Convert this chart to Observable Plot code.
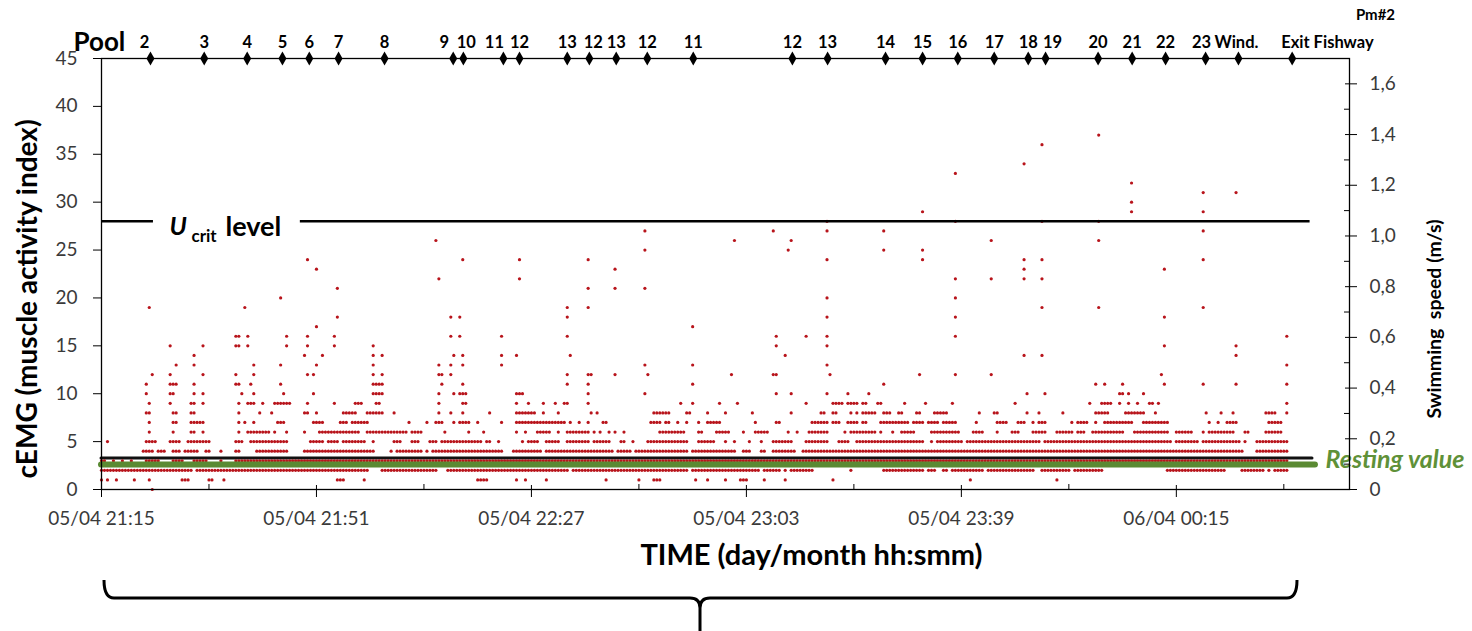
<!DOCTYPE html>
<html><head><meta charset="utf-8">
<script src="https://cdn.jsdelivr.net/npm/d3@7"></script>
<script src="https://cdn.jsdelivr.net/npm/@observablehq/plot@0.6"></script>
<style>
html,body{margin:0;padding:0;background:#fff;overflow:hidden}
#wrap{position:relative;width:1472px;height:631px}
#brace{position:absolute;left:0;top:0;pointer-events:none}
</style>
</head><body><div id="wrap"></div>
<script>
// ---------- DATA ----------
// time origin of the record: 05/04 21:15 ; positions are minutes after it
const recordStart = Date.UTC(2015, 3, 5, 21, 15);
const axisEndMinute = 209;
const majorTickMinutes = [0, 36, 72, 108, 144, 180];
const minorTickMinutes = [18, 54, 90, 126, 162, 198];
const cemgTicks = [0, 5, 10, 15, 20, 25, 30, 35, 40, 45];
const speedMajorTicks = [0, 0.2, 0.4, 0.6, 0.8, 1.0, 1.2, 1.4, 1.6];
const speedMinorTicks = [0.1, 0.3, 0.5, 0.7, 0.9, 1.1, 1.3, 1.5];
const speedMax = 1.7;   // right axis top (= cEMG 45)
const cemgMax = 45;

// pools passed (top axis)
const poolNames = ["2","3","4","5","6","7","8","9","10","11","12","13","12","13","12","11","12","13","14","15","16","17","18","19","20","21","22","23","Wind.","Exit Fishway"];
const poolMinutes = [8.2,17.2,24.4,30.3,34.8,39.7,47.4,58.9,60.6,67.3,70.0,78.0,81.7,86.2,91.4,99.1,115.7,121.6,131.3,137.5,143.4,149.5,155.2,158.1,166.9,172.6,178.2,184.9,190.4,199.4];

// reference levels
const ucritLevel = 28;
const ucritSpans = [[0, 8.7], [33.3, 202.4]];
const restingLevel = 2.6;
const restingSpan = [0, 203.3];
const baselineLevel = 3.3;
const baselineSpan = [0, 202.8];

// cEMG readings (quantized levels 0..12): observed runs of consecutive
// 0.5-min cells [fromMinute, toMinute] (single cell = [minute])
const cellMinutes = 0.5;
const levelRuns = [
 /*0*/ [[8.5]],
 /*1*/ [[0],[1],[2.5],[5.5],[8],[13.5,14.5],[18,18.5],[20.5],[39.5,40.5],[44],[63,64.5],[69.5],[71],[74.5],[84.5],[90],[92.5,93.5],[99.5],[101.5],[104.5],[107,108],[111],[114.5],[122.5],[145.5],[160]],
 /*2*/ [[0,7.5],[8,12],[12.5,15],[16,17],[17.5,25.5],[26,34.5],[35,44.5],[47,56],[58,78],[79,98],[99,105.5],[106,110],[111,113],[113.5],[114.5],[115.5,119],[125.5],[131,132.5],[133,137.5],[138.5,139.5],[141,141.5],[142.5,147.5],[148.5,156],[157.5,162],[163,164.5],[165,167.5],[178.5,182.5],[183,188],[191,194.5],[195.5],[196.5,198.5]],
 /*3*/ [[0,0.5],[2],[3.5],[5],[7.5,9.5],[12,13.5],[15.5,17.5],[20],[22.5,198.5]],
 /*4*/ [[7,8.5],[9.5,10.5],[12,13],[14,16],[17.5,18],[20],[22.5,23],[26,31],[34,40.5],[41,45.5],[48.5],[49.5,53.5],[54.5],[55.5,67],[69,73.5],[74.5,85.5],[86.5,88.5],[89.5,98],[99,106],[107.5,108.5],[110.5,111],[112.5,116],[117.5],[118,191],[193.5,198.5]],
 /*5*/ [[1],[7.5,9],[11.5,13],[14.5,18],[22.5,23.5],[25,31],[35,37],[38,39.5],[40.5,44],[45.5],[49,50],[52,53],[55,56],[57,63.5],[64.5,65],[66.5],[70.5],[71.5,73],[74.5,76.5],[78,81.5],[82.5,85],[87,87.5],[89],[91.5,98],[100,102.5],[104.5],[106],[108.5],[110.5],[112.5,115.5],[118,121.5],[123.5,125],[126.5,132.5],[133,137.5],[139],[140,144],[145,157],[158,179],[180,183.5],[184.5,190.5],[191.5],[193.5,198.5]],
 /*6*/ [[8],[12],[15,15.5],[17],[23],[24.5,28],[29],[31],[34],[36.5,43],[44.5,51],[52,53.5],[57.5],[61.5],[64],[69.5],[71],[73,75],[76.5],[78,81.5],[82.5],[83.5],[85],[86],[87.5],[93.5,97.5],[100,100.5],[103,105],[107.5],[109.5,111.5],[115],[116.5],[118.5,121.5],[124.5],[125.5,129.5],[130.5],[132.5],[134,136],[139,143.5],[146,147.5],[150],[152.5,153.5],[156,158],[160,162.5],[163.5,164.5],[166,171],[173,178.5],[180,182.5],[184.5],[185.5,189.5],[191.5,192],[195,197.5]],
 /*7*/ [[8],[12,12.5],[15,17],[23],[24],[25.5],[29.5,30.5],[35.5,37],[40,41],[42,44.5],[51.5],[54.5],[56,57],[59],[60,61.5],[63],[67],[69.5,77.5],[78.5],[80],[81.5],[84,84.5],[92,93.5],[94.5,95],[96.5],[98],[100],[101.5,103.5],[109.5],[113,113.5],[119,121.5],[122.5,123.5],[125,126.5],[127.5,128],[130.5,135],[136,137.5],[138.5,140],[141,143],[146.5],[150,151.5],[153.5,154.5],[156],[157,158],[162.5],[163.5,165],[166.5],[168,172.5],[174.5,178.5],[185.5],[187],[188.5,190],[195.5,197.5]],
 /*8*/ [[7.5,8],[12,12.5],[15,15.5],[23],[26.5],[28.5],[34,34.5],[36],[40.5,42.5],[44.5,47],[49],[56.5],[58.5],[60.5],[65],[69.5,72.5],[74],[76.5],[82],[83],[92.5,95],[98,98.5],[101.5],[104.5],[109],[115.5],[120.5,121],[122.5,123],[125.5],[126.5],[127.5,129.5],[131,132],[133.5,134],[136.5,137],[139.5,141.5],[147],[149.5,150],[155],[157],[161],[166.5,168.5],[171.5,174.5],[176.5],[185],[187.5],[189.5],[195,196.5],[198.5]],
 /*9*/ [[8],[11.5],[15,15.5],[17],[23],[24.5,25.5],[27],[29,31.5],[34.5],[39],[42.5,43.5],[46,46.5],[56.5],[60.5,61],[69.5],[71.5],[74],[76],[77.5,78],[81.5],[97],[99],[103.5],[106.5],[118],[122.5,124],[125,126.5],[127.5,128],[130,130.5],[134.5],[138],[142.5],[153],[165.5],[167.5,169],[170.5],[172],[173.5],[175.5,176],[177],[198.5]],
 /*10*/ [[7.5],[11.5,12],[15.5],[17],[23.5],[25.5],[30.5],[35.5],[45.5,47],[56.5],[59],[60,61],[69.5,70.5],[81.5],[91],[113],[115.5],[121.5],[125],[128.5],[155],[158],[170.5,171],[172],[174.5]],
 /*11*/ [[7.5],[11.5,12.5],[15.5],[22.5,23],[25],[30],[45.5,47],[57],[60.5],[78],[81.5],[99],[131],[166.5],[168],[171],[178],[184.5],[190],[198.5]],
 /*12*/ [[8.5],[11.5],[17],[22.5],[25.5],[34.5],[35.5],[45.5],[47],[56.5,57],[58.5],[78],[81.5,82],[86],[91.5],[105.5],[112.5,113],[122],[137],[143],[149],[177.5]]
];

// isolated high readings: [minute, cEMG]
const peakReadings = [
 [12.5,13],[15.5,13],[25.5,13],[30,13],[36,13],[45.5,13],[56.5,13],[58.5,13],[60.5,13],[67,13],[91,13],[99,13],
 [15.5,14],[34,14],[37,14],[45.5,14],[47,14],[59,14],[60.5,14],[67,14],[69.5,14],[78.5,14],
 [11.5,15],[17,15],[22.5,15],[23,15],[24.5,15],[31,15],[34.5,15],[39,15],[45.5,15],
 [22.5,16],[23,16],[24.5,16],[31,16],[34.5,16],[39,16],[58.5,16],[60,16],[67,16],[78,16],
 [36,17],[99,17],[39.5,18],[58.5,18],[60,18],[78,18],
 [8,19],[24,19],[78,19],[81.5,19],[30,20],
 [39.5,21],[81.5,21],[86,21],[91,21],[56.5,22],[70,22],[36,23],[86,23],
 [34.5,24],[60.5,24],[70,24],[81.5,24],[91,25],[56,26],[91,27],
 [106,26],[112.5,27],[115,25],[115.5,26],[113,16],[113,15],[114.5,14],[118,16],
 [121.5,28],[121.5,27],[121.5,24],[121.5,20],[121.5,18],[121.5,16],[121.5,15],[121.5,13],
 [131,27],[131,25],[137.5,29],[137.5,25],[137.5,24],
 [143,33],[143,28],[143,22],[143,20],[143,18],[143,16],
 [149,26],[149,22],[154.5,34],[154.5,24],[154.5,23],[154.5,22],[154.5,14],
 [157.5,36],[157.5,28],[157.5,24],[157.5,22],[157.5,19],[157.5,14],
 [167,37],[167,28],[167,26],[167,19],[172.5,32],[172.5,30],[172.5,29],
 [178,23],[178,18],[178,15],[184.5,31],[184.5,29],[184.5,27],[184.5,24],[184.5,19],
 [190,31],[190,15],[190,14],[198.5,16],[198.5,13]
];

// ---------- BUILD ----------
const toDate = m => new Date(recordStart + m * 60000);
const readings = [];
levelRuns.forEach((runs, level) => {
  runs.forEach(run => {
    const a = run[0], b = run.length > 1 ? run[1] : run[0];
    for (let m = a; m <= b + 1e-9; m += cellMinutes) readings.push({t: toDate(m), v: level});
  });
});
peakReadings.forEach(([m, v]) => readings.push({t: toDate(m), v}));

const pools = poolNames.map((name, i) => ({name, t: toDate(poolMinutes[i]), i}));
const speedToCemg = s => s * cemgMax / speedMax;
const fmtTime = d3.utcFormat("%d/%m %H:%M");
const fmtSpeed = s => s === 0 ? "0" : d3.format(".1f")(s).replace(".", ",");

// label nudges for crowded pool labels (styling only)
const poolDx = {0: -6, 7: -9, 8: 3, 9: -9, 12: 4, 23: 7, 27: -4, 28: -2, 29: -11};
const poolLabelMarks = Array.from(d3.group(pools, p => poolDx[p.i] || 0), ([dx, items]) =>
  Plot.text(items, {x: "t", frameAnchor: "top", text: "name", dy: -16, dx: +dx,
    lineAnchor: "middle", textAnchor: items[0].name === "Exit Fishway" ? "start" : "middle",
    fontWeight: "bold", fontSize: 16.5, fill: "black"}));

const FONT = "Lato, 'Open Sans', 'Liberation Sans', sans-serif";
const DOT = "#b8141b";
const GREEN = "#5a8a33";

const chart = Plot.plot({
  width: 1472, height: 631,
  marginLeft: 101, marginRight: 123, marginTop: 58, marginBottom: 142,
  x: {type: "utc", domain: [toDate(0), toDate(axisEndMinute)]},
  y: {domain: [0, cemgMax]},
  style: {fontFamily: FONT, fontSize: "19px", color: "#3a3a3a", background: "white"},
  marks: [
    Plot.ruleY([baselineLevel], {x1: () => toDate(baselineSpan[0]), x2: () => toDate(baselineSpan[1]), stroke: "#111", strokeWidth: 3, strokeLinecap: "round"}),
    Plot.dot(readings, {x: "t", y: "v", r: 1.6, fill: DOT, stroke: null}),
    Plot.ruleY([restingLevel], {x1: () => toDate(restingSpan[0]), x2: () => toDate(restingSpan[1]), stroke: GREEN, strokeWidth: 6, strokeLinecap: "round"}),
    Plot.ruleY(ucritSpans, {y: () => ucritLevel, x1: d => toDate(d[0]), x2: d => toDate(d[1]), stroke: "black", strokeWidth: 2.5}),
    Plot.text([ucritLevel], {y: d => d, frameAnchor: "left", dx: 68, dy: 6, text: () => "U", textAnchor: "start", lineAnchor: "middle", fontStyle: "italic", fontWeight: "bold", fontSize: 25, fill: "black"}),
    Plot.text([ucritLevel], {y: d => d, frameAnchor: "left", dx: 90, dy: 15, text: () => "crit", textAnchor: "start", lineAnchor: "middle", fontWeight: "bold", fontSize: 17, fill: "black"}),
    Plot.text([ucritLevel], {y: d => d, frameAnchor: "left", dx: 124, dy: 6, text: () => "level", textAnchor: "start", lineAnchor: "middle", fontWeight: "bold", fontSize: 27, fill: "black"}),
    Plot.text([restingLevel], {y: d => d, frameAnchor: "right", dx: -24, dy: -5, text: () => "Resting value", textAnchor: "start", lineAnchor: "middle", fontStyle: "italic", fontWeight: "bold", fontSize: 25, fill: "#5f9138"}),
    Plot.frame({stroke: "black", strokeWidth: 1.3}),
    Plot.axisX({ticks: majorTickMinutes.map(toDate), tickFormat: fmtTime, tickSize: 8, tickPadding: 14, fontSize: 19, stroke: "black", label: null}),
    Plot.axisX({ticks: majorTickMinutes.map(toDate), tickFormat: () => "", tickSize: -4, stroke: "black", label: null}),
    Plot.axisX({ticks: minorTickMinutes.map(toDate), tickFormat: () => "", tickSize: -5, stroke: "black", label: null}),
    Plot.axisY({ticks: cemgTicks, tickSize: 8, tickPadding: 16, fontSize: 19, stroke: "black", label: null}),
    Plot.axisY({anchor: "right", ticks: speedMajorTicks.map(speedToCemg), tickFormat: v => fmtSpeed(Math.round(v * speedMax / cemgMax * 10) / 10), tickSize: 7, tickPadding: 13, fontSize: 19, stroke: "black", label: null}),
    Plot.axisY({anchor: "right", ticks: speedMajorTicks.map(speedToCemg), tickFormat: () => "", tickSize: -5, stroke: "black", label: null}),
    Plot.axisY({anchor: "right", ticks: speedMinorTicks.map(speedToCemg), tickFormat: () => "", tickSize: -6, stroke: "black", label: null}),
    Plot.dot(pools, {x: "t", frameAnchor: "top", symbol: "diamond", r: 4.2, fill: "black", stroke: null}),
    ...poolLabelMarks,
    Plot.text(["Pool"], {frameAnchor: "top-left", dx: -28, dy: -16, textAnchor: "start", lineAnchor: "middle", fontWeight: "bold", fontSize: 26, fill: "black"}),
    Plot.text(["Pm#2"], {frameAnchor: "top-right", dx: 26, dy: -43, textAnchor: "middle", lineAnchor: "middle", fontWeight: "bold", fontSize: 15, fill: "black"}),
    Plot.text(["cEMG (muscle activity index)"], {frameAnchor: "left", dx: -73, dy: 25, rotate: -90, textAnchor: "middle", lineAnchor: "middle", fontWeight: "bold", fontSize: 28, fill: "black"}),
    Plot.text(["Swimming  speed (m/s)"], {frameAnchor: "right", dx: 85, dy: 45, rotate: -90, textAnchor: "middle", lineAnchor: "middle", fontWeight: "bold", fontSize: 19.5, fill: "black"}),
    Plot.text(["TIME (day/month hh:smm)"], {frameAnchor: "bottom", dx: 86, dy: 66, textAnchor: "middle", lineAnchor: "middle", fontWeight: "bold", fontSize: 29, fill: "black"})
  ]
});
document.getElementById("wrap").appendChild(chart);

// brace under the chart (decoration)
const ns = "http://www.w3.org/2000/svg";
const brace = document.createElementNS(ns, "svg");
brace.setAttribute("id", "brace");
brace.setAttribute("width", 1472); brace.setAttribute("height", 631);
const p = document.createElementNS(ns, "path");
p.setAttribute("d", "M104,580 Q104,598 114,598 L690,598 Q700,598 700,608 L700,631 M700,608 Q700,598 710,598 L1287,598 Q1297,598 1297,580");
p.setAttribute("fill", "none"); p.setAttribute("stroke", "black"); p.setAttribute("stroke-width", "3");
brace.appendChild(p);
document.getElementById("wrap").appendChild(brace);
</script>
</body></html>
